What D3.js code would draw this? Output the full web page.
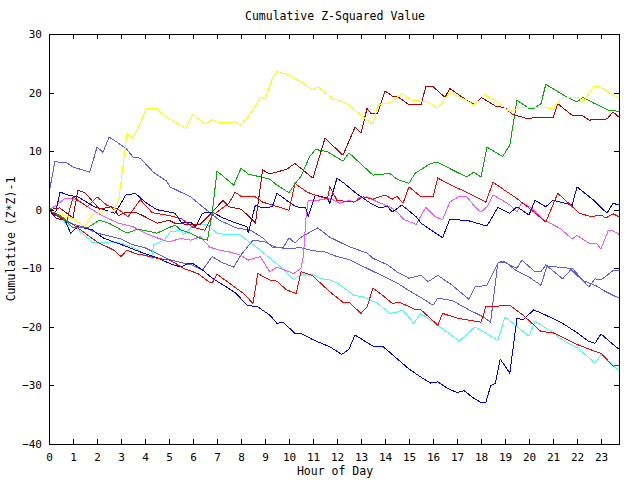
<!DOCTYPE html>
<html><head><meta charset="utf-8">
<script src="https://cdn.jsdelivr.net/npm/d3@7"></script>
<style>body{margin:0;background:#fff}</style>
</head><body><svg id="c" width="640" height="480"></svg>
<script>
const hourTicks = d3.range(0, 24);
const valueTicks = [-40, -30, -20, -10, 0, 10, 20, 30];
const chartTitle = "Cumulative Z-Squared Value";
const xTitle = "Hour of Day";
const yTitle = "Cumulative (Z*Z)-1";

const yellowSeries = [[0,0],[0.5,-0.8],[1,-1.5],[1.5,-2.9],[1.8,-0.8],[2.25,-0.4],[2.7,-0.2],[2.9,1.5],[3.25,13],[3.5,12.2],[3.8,14.8],[4.05,17.3],[4.5,17.3],[4.75,16.2],[5.7,13.9],[6.0,16.3],[6.5,14.6],[6.8,15.4],[7.1,14.8],[7.75,15],[8.0,14.4],[8.5,17],[8.8,19.2],[9.0,18.8],[9.3,22.4],[9.5,23.6],[10,23],[10.5,21.8],[11,20.4],[11.2,21],[11.8,19],[12.4,18.2],[13.1,15.8],[13.5,14.6],[13.7,17.9],[14.3,18.4],[14.7,19.9],[15.1,18.7],[15.8,18.4],[16.2,17.3],[16.7,20],[17.25,19],[17.7,17.9],[18.1,19.7],[18.7,18.4],[19.2,16.7],[19.6,17.5],[20.2,17.5],[21,17.3],[21.4,19.2],[22.1,19.2],[22.25,18.4],[22.7,21.1],[23,20.9],[23.75,19]];

const greenSeries = [[0,0.3],[0.6,-1.4],[1,-3.1],[1.6,-3.1],[2.1,-1.8],[2.5,-2.3],[3.25,-4],[3.7,-3.3],[4.5,-4],[5.25,-2.6],[5.5,-3.5],[5.9,-4],[6.3,-4.9],[6.6,-5.2],[6.8,-0.6],[7.0,6.6],[7.7,4.2],[8.0,7.1],[8.3,6.1],[9.2,5.2],[9.5,4.2],[10,2.9],[10.3,4.7],[10.5,5.7],[10.85,9],[11.1,10.3],[11.6,9.9],[12.25,8.3],[12.5,9.7],[13.5,5.9],[14.2,6.2],[14.5,5.2],[15,4.5],[15.25,6.2],[15.9,7.9],[16.2,8.1],[16.8,6.8],[17.4,5.6],[17.7,6.4],[18.0,5.6],[18.25,10.7],[18.9,9.1],[19.2,11],[19.5,18.7],[20,17.3],[20.2,17.3],[20.5,18.1],[20.7,21.4],[21.6,19.2],[22,18.4],[22.25,19.2],[22.7,18.2],[23.3,17],[23.75,16.8]];

const darkRedSeries = [[0,0],[0.45,0.3],[1,-1.4],[1.2,3.3],[1.5,2.9],[2.1,0.1],[2.6,0.5],[2.9,-1],[3.2,-0.4],[3.6,-0.4],[4,-1.2],[4.5,-2.3],[5,-1.8],[5.25,-2.3],[5.8,-2.5],[6.3,-2.5],[6.8,-0.4],[7.25,1.6],[7.5,0.5],[8,0.1],[8.4,-1.4],[8.6,-2.3],[8.9,6.8],[9.2,6.1],[9.9,6.9],[10.25,7.9],[10.75,6.2],[11,5.4],[11.5,12.2],[12.25,9.3],[12.75,14.1],[13,13.1],[13.25,17.3],[13.4,16.5],[13.7,16.5],[14,20.3],[14.3,19.4],[14.5,19.4],[15,17.9],[15.5,17.9],[15.7,21],[16,21],[16.5,19.2],[16.7,20.7],[17.4,18.7],[17.75,18],[18,19.2],[18.6,17.7],[19,17.4],[19.3,16.3],[19.9,15.6],[20.75,15.8],[21,15.7],[21.2,18.1],[21.8,16.1],[22.25,16],[22.5,15.3],[23.25,15.5],[23.5,16.7],[23.75,15.8]];

const slateUpperSeries = [[0,2.8],[0.25,8.3],[0.5,8],[0.75,8],[1,7.3],[1.7,6.4],[2.0,10.7],[2.25,9.8],[2.5,12.4],[2.7,11.9],[3.2,10.5],[3.5,9],[3.8,8.8],[4.35,6.4],[4.9,4.9],[5.04,3.9],[5.9,2.2],[6.4,0.5],[7.1,-1.8],[7.8,-3.1],[8.4,-3.5],[8.9,-4.8],[9.3,-6.4],[9.75,-6.5],[10,-4.8],[10.25,-5.7],[10.5,-4.7],[11.2,-3.1],[11.7,-4.7],[12.5,-6.3],[13.25,-7.4],[13.5,-8.3],[14.1,-9.4],[14.5,-10.6],[15,-11.7],[15.5,-11.2],[15.8,-12.3],[16.2,-11.2],[16.8,-12.9],[17.5,-15.3],[17.75,-13.2],[18.25,-12.9],[18.7,-9.1],[18.9,-8.8],[19.5,-10],[19.7,-8.6],[20.25,-10.6],[20.5,-10.6],[20.7,-9.4],[21.4,-11.8],[21.8,-10],[22.5,-13.2],[22.75,-11.8],[23,-12],[23.5,-10.4],[23.75,-10.4]];

const slateLowerSeries = [[0,0],[0.5,-1.2],[1,-2.5],[1.5,-3],[2,-4],[2.5,-4.5],[3,-5],[3.5,-6],[4,-6.5],[4.5,-7.5],[5,-8.5],[5.5,-9],[6,-9.5],[6.4,-10.3],[6.8,-8],[7.2,-9],[7.7,-9.8],[8,-7.7],[8.5,-5.2],[9,-5.5],[9.5,-6.5],[10,-6.6],[10.5,-6.5],[11,-7],[11.5,-7.2],[12,-8],[12.5,-8.5],[13,-9.5],[13.5,-10.5],[14,-11.5],[14.5,-12.5],[15,-13.8],[15.5,-15],[16,-16.3],[16.2,-15.1],[16.8,-15.5],[17.5,-17.1],[18.1,-18.3],[18.4,-19.2],[18.7,-9.1],[19,-8.9],[19.5,-10.5],[20,-11.5],[20.5,-12.9],[20.75,-9.6],[21.7,-10],[22.2,-12],[22.8,-13],[23.2,-14],[23.75,-15.1]];

const blueUpperSeries = [[0,0],[0.25,-1],[0.46,3],[0.8,2.5],[1.2,2.2],[1.9,0.5],[2.75,-0.6],[3.2,2.5],[3.6,2.8],[4,1.3],[4.5,0],[5.25,-0.6],[5.5,-2.1],[5.9,-2.1],[6.1,-2.9],[6.4,-0.6],[6.8,-0.4],[7.25,-1.4],[7.8,-2.3],[8.25,-2.9],[8.3,-4],[8.6,0.8],[8.9,0.3],[9.3,0.5],[9.5,2.8],[10,1.3],[10.3,0.5],[10.7,0.3],[10.8,-1.2],[11.1,2.5],[11.6,2],[11.7,1.1],[12,5.4],[12.3,4.5],[12.8,2.8],[13.4,1.1],[13.8,0.3],[14.1,0.6],[14.3,-0.4],[14.7,0.8],[15.3,-1.2],[15.5,-2.3],[16.4,-4.8],[16.7,-1.6],[17.5,-1.9],[18.25,-2.8],[18.7,0.4],[19.2,-0.6],[19.5,0.5],[20,-0.9],[20.25,1.6],[20.7,0.5],[21,1.6],[21.8,0.8],[22,3.9],[22.7,1.6],[23.25,-0.6],[23.5,1.1],[23.75,0.8]];

const blueLowerSeries = [[0,0],[0.3,-1.5],[0.67,-1.8],[0.9,-4],[1.2,-2.9],[1.8,-3.4],[2.25,-4.8],[2.7,-5.5],[3.25,-6.3],[3.6,-6.9],[4,-7.5],[4.5,-8.2],[5.04,-9.2],[5.5,-9.8],[5.8,-9.2],[6,-9.2],[6.4,-10.3],[6.8,-11.7],[7.4,-13.2],[7.8,-14.3],[8.25,-16.3],[8.7,-16.6],[9.2,-18],[9.5,-19.4],[9.75,-19.2],[10.25,-21.1],[10.5,-21.1],[11,-22.2],[11.7,-23.4],[12.2,-24.7],[12.5,-23.8],[12.75,-21.4],[13.5,-23.3],[13.9,-23.3],[15,-27.2],[15.5,-28.6],[15.9,-29.6],[16.2,-29.4],[16.6,-30.5],[17,-31.2],[17.3,-30.9],[17.7,-32.2],[18.0,-32.9],[18.2,-32.9],[18.4,-30.1],[18.6,-29.6],[18.8,-25.5],[19.2,-27.9],[19.5,-18.5],[19.75,-18.8],[20.2,-17.1],[20.7,-18],[21.4,-19.4],[22,-21],[22.5,-22.5],[22.75,-22.8],[23,-21.2],[23.5,-23],[23.75,-23.8]];

const redUpperSeries = [[0,0],[0.3,-1],[0.75,-1.8],[1,2.2],[1.6,0.5],[2,2.2],[2.4,0.8],[2.9,0],[3.3,-1.2],[3.8,1.7],[4.3,-0.5],[5,-1],[5.5,-1.5],[6,-3],[6.5,-3.5],[6.8,-1],[7.5,1.1],[7.75,3],[8,2.3],[8.6,2.2],[8.9,1.3],[9.7,0.3],[10,-0.1],[10.25,4.5],[10.75,3],[11.3,2.2],[11.6,1.8],[11.7,3.9],[12,1.6],[12.7,1.3],[13.1,2.2],[13.5,1.8],[14,2.5],[14.3,1.8],[14.5,2.3],[14.75,1.1],[15,3.9],[15.5,2.2],[16,2.2],[16.2,5.4],[16.8,4.1],[17.5,2.8],[18.2,1.3],[18.5,4.7],[19.1,3],[19.4,2.2],[20,0.3],[20.7,-2.1],[21.2,2.8],[21.6,1.3],[22.1,-0.6],[22.6,-1.2],[23,-0.9],[23.2,-1.4],[23.5,-0.7],[23.75,-1.2]];

const redLowerSeries = [[0,0],[0.5,-1.5],[1,-2.5],[1.5,-4],[2,-5.5],[2.7,-6.9],[3,-8],[3.25,-6.9],[3.6,-7.5],[4,-7.8],[4.5,-8.3],[5.04,-8.6],[5.6,-10],[6.2,-10.9],[6.7,-12.4],[6.8,-12.5],[7,-11],[7.5,-12.5],[8.1,-14.3],[8.5,-16],[8.7,-10.9],[9.2,-12],[9.5,-12.2],[9.9,-13.7],[10.3,-14.3],[10.5,-10.6],[10.96,-11.2],[11.7,-14],[12.25,-15.8],[12.5,-15.8],[13,-17.7],[13.25,-16.6],[13.5,-13.4],[13.9,-14.6],[14.3,-16],[14.6,-15.8],[15.3,-17.1],[15.5,-17.1],[16.2,-19.7],[16.4,-17.7],[17,-18.5],[18,-19.2],[18.2,-16.6],[19.2,-16.3],[19.75,-18],[20.5,-20.8],[21,-21],[21.5,-22],[22,-23],[22.7,-24.1],[23,-24.5],[23.5,-26.7],[23.75,-26.6]];

const magentaSeries = [[0,0],[0.33,0.8],[0.67,2],[0.96,2],[1.4,1.1],[1.8,0],[2.3,-1.2],[2.9,-2.3],[3.5,-2.9],[4,-4],[4.5,-4.8],[5,-5.5],[5.5,-4.9],[5.9,-5.2],[6.3,-4.6],[6.7,-6.4],[7.1,-6.9],[7.5,-7.2],[7.96,-7.7],[8.3,-8.6],[8.8,-8],[9.2,-10.6],[9.5,-9.8],[10.2,-10.9],[10.5,-10],[10.6,-8],[10.7,-1.7],[10.8,1.6],[11.2,1.6],[11.7,2],[12.1,1.1],[12.5,1.6],[12.75,1.3],[12.9,2],[13.25,2.2],[13.7,1.3],[14.2,0.5],[14.5,-0.4],[14.8,-1.7],[15.3,-2.5],[15.7,0.4],[16.1,-1.2],[16.4,-1.7],[16.7,1.3],[17.1,2.3],[17.4,2.2],[17.75,0.5],[18,-0.4],[18.25,0.5],[18.5,2.5],[18.9,1.6],[19.2,0.8],[19.5,-0.4],[19.7,1.3],[20.1,0.3],[20.6,-1.7],[21.3,-3.2],[21.8,-5],[22,-4.4],[22.5,-5.7],[22.8,-5.7],[23,-6.7],[23.3,-3.6],[23.5,-3.6],[23.75,-4.2]];

const cyanSeries = [[0,0],[0.1,-0.6],[0.4,-1.2],[0.7,-2.3],[1.2,-3.4],[1.8,-5.5],[2,-5.7],[2.6,-5.5],[3,-5.7],[3.6,-6.6],[3.9,-7.5],[4.3,-8.3],[4.35,-6],[4.8,-5.2],[5.04,-3.8],[5.5,-3.5],[5.6,-4.3],[5.9,-3.1],[6.2,-2.3],[6.6,-2.6],[7,-4],[7.4,-4.3],[7.96,-4.3],[8.25,-5.2],[8.8,-6.9],[9.3,-8.6],[9.8,-10.3],[10.2,-12],[10.4,-11.2],[10.96,-11],[11.3,-11.7],[11.7,-12],[12,-12.5],[12.25,-13.2],[12.7,-14.6],[13.1,-14.9],[13.7,-16],[14.2,-17.7],[14.5,-17.5],[14.75,-17.1],[15.2,-19.4],[15.5,-17.7],[17.1,-22.4],[17.75,-20],[18.7,-22.3],[19,-18.3],[20,-21.6],[20.25,-19],[21,-21],[21.5,-22.5],[22,-23.5],[22.75,-26.2],[23,-24.7],[23.75,-27.5]];

const seriesList = [
  {data: slateLowerSeries, color: "#5a5aff"},
  {data: slateUpperSeries, color: "#5a5aff"},
  {data: cyanSeries, color: "#40ffff"},
  {data: magentaSeries, color: "#ff50ff"},
  {data: blueLowerSeries, color: "#0000ff"},
  {data: blueUpperSeries, color: "#0000ff"},
  {data: redLowerSeries, color: "#ff0000"},
  {data: redUpperSeries, color: "#ff0000"},
  {data: greenSeries, color: "#00b000"},
  {data: darkRedSeries, color: "#b40000"},
  {data: yellowSeries, color: "#ffff00"}
];

const svg = d3.select("#c");
const W = 640, H = 480;
const m = {left: 49, right: 21, top: 34, bottom: 36};
const x = d3.scaleLinear().domain([0, 23.75]).range([m.left, W - m.right]);
const y = d3.scaleLinear().domain([-40, 30]).range([H - m.bottom, m.top]);
const font = "'DejaVu Sans Mono', monospace";

svg.append("rect").attr("width", W).attr("height", H).attr("fill", "#fff");

const line = d3.line().x(d => x(d[0])).y(d => y(d[1]));
const gLines = svg.append("g");
seriesList.forEach(s => {
  gLines.append("path").datum(s.data).attr("d", line)
    .attr("fill", "none").attr("stroke", s.color).attr("stroke-width", 1)
    .attr("stroke-linejoin", "miter").attr("shape-rendering", "crispEdges");
});

function styleAxis(g) {
  g.select(".domain").remove();
  g.selectAll("line").attr("stroke", "#000").attr("shape-rendering", "crispEdges");
  g.selectAll("text").attr("font-family", font).attr("font-size", 11).attr("fill", "#000");
}
svg.append("g").attr("transform", `translate(0,${y(-40)})`)
  .call(d3.axisBottom(x).tickValues(hourTicks).tickSizeInner(-5).tickSizeOuter(0).tickPadding(9).tickFormat(d3.format("d")))
  .call(styleAxis);
svg.append("g").attr("transform", `translate(0,${y(30)})`)
  .call(d3.axisTop(x).tickValues(hourTicks).tickSizeInner(-5).tickSizeOuter(0).tickFormat(""))
  .call(styleAxis);
svg.append("g").attr("transform", `translate(${x(0)},0)`)
  .call(d3.axisLeft(y).tickValues(valueTicks).tickSizeInner(-5).tickSizeOuter(0).tickPadding(7).tickFormat(d3.format("d")))
  .call(styleAxis);
svg.append("g").attr("transform", `translate(${x(23.75)},0)`)
  .call(d3.axisRight(y).tickValues(valueTicks).tickSizeInner(-5).tickSizeOuter(0).tickFormat(""))
  .call(styleAxis);

svg.append("rect").attr("x", x(0)).attr("y", y(30))
  .attr("width", x(23.75) - x(0)).attr("height", y(-40) - y(30))
  .attr("fill", "none").attr("stroke", "#000").attr("shape-rendering", "crispEdges");

svg.append("text").attr("x", 335).attr("y", 20).attr("text-anchor", "middle")
  .attr("font-family", font).attr("font-size", 11.5).text(chartTitle);
svg.append("text").attr("x", 335).attr("y", 475).attr("text-anchor", "middle")
  .attr("font-family", font).attr("font-size", 11.5).text(xTitle);
svg.append("text").attr("transform", `translate(15,${(y(30)+y(-40))/2}) rotate(-90)`)
  .attr("text-anchor", "middle")
  .attr("font-family", font).attr("font-size", 11.5).text(yTitle);
</script></body></html>
